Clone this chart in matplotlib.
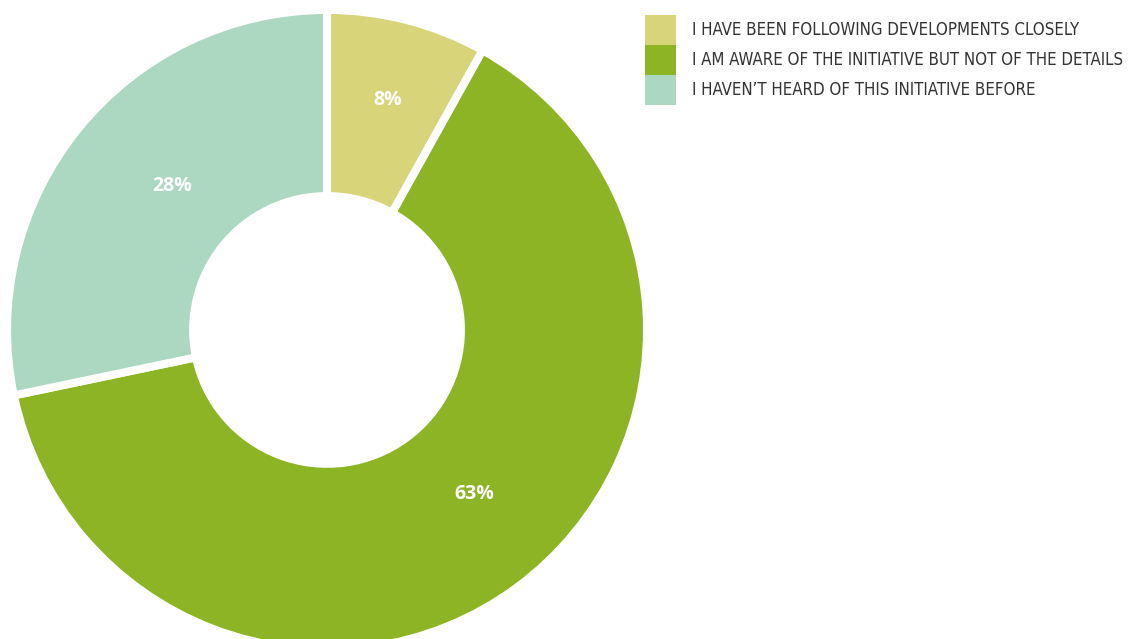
import matplotlib
matplotlib.use("Agg")
import matplotlib.pyplot as plt
from matplotlib.patches import Patch
from matplotlib.font_manager import FontProperties

categories = ["I HAVE BEEN FOLLOWING DEVELOPMENTS CLOSELY",
              "I AM AWARE OF THE INITIATIVE BUT NOT OF THE DETAILS",
              "I HAVEN\u2019T HEARD OF THIS INITIATIVE BEFORE"]
values = [8, 63, 28]
labels = ["8%", "63%", "28%"]
colors = ["#D8D47A", "#8CB424", "#ACD7C1"]

fig = plt.figure(figsize=(11.28, 6.39), dpi=100)
ax = fig.add_axes([0, 0, 1, 1])
# outer 320px / inner 134px drawn; the white edge eats ~3px on each side
ax.pie(values, colors=colors, startangle=90, counterclock=False, radius=1.0127,
       wedgeprops=dict(width=0.589, edgecolor="white", linewidth=5.8))
ax.set_xlim(-1.035, 2.535)
ax.set_ylim(-0.978, 1.044)
ax.set_aspect("equal")
ax.axis("off")

# label positions (pixels from pie centre)
pos = [(61, 230), (147, -164), (-155, 144)]
for (dx, dy), lab in zip(pos, labels):
    ax.text(dx / 316, dy / 316, lab, color="white", fontsize=14, fontweight="bold",
            family="Open Sans", ha="center", va="center")

# pick a legend font size so the longest line ends near the right edge
fp = FontProperties(family="DejaVu Sans", stretch="condensed", size=12)
renderer = fig.canvas.get_renderer()
t = fig.text(0, 0, categories[1], fontproperties=fp)
w = t.get_window_extent(renderer).width
t.remove()
fp.set_size(min(13, 12 * 430 / w))

handles = [Patch(facecolor=c, edgecolor="none") for c in colors]
px = fp.get_size_in_points() * 100 / 72
fig.legend(handles, categories, loc="upper left", bbox_to_anchor=(645 / 1128, 1 - 15 / 639),
           frameon=False, borderpad=0, borderaxespad=0, labelspacing=0,
           handlelength=31 / px, handleheight=(30 / px - 0.245) / 0.65,
           handletextpad=16 / px,
           prop=fp, labelcolor="#333333")

fig.savefig("out.png", dpi=100)
